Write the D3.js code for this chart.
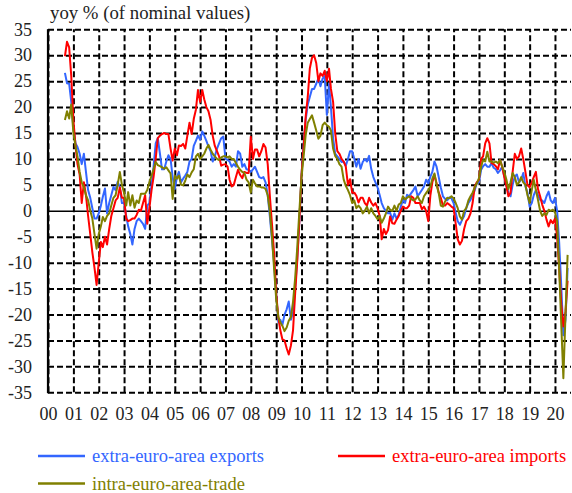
<!DOCTYPE html>
<html lang="en">
  <head>
    <meta charset="UTF-8" />
    <title>Euro area trade, yoy %</title>
    <script src="https://d3js.org/d3.v7.min.js"></script>
    <style>
      * {
        margin: 0;
        padding: 0;
      }

      body {
        background: #fff;
      }
    </style>
  </head>

  <body></body>

  <script>
    // monthly yoy %, Sep 2000 .. Jul 2020
    const firstMonth = new Date(2000, 8, 1);

    const extraExports = [
      26.6, 24.6, 24.5, 21,
      16, 13, 12.3, 11, 9, 11, 7.5, 4, 2.5, 0.5, -1.5, -1.5,
      -0.5, 1, 2.7, 4.3, -0.5, 1.5, 3, 4.6, 4, 5.6, 4.5, 1.5,
      1.5, -1, -3, -4.5, -6.5, -3.5, -2, -1.5, -2, -2.5, -3.5, 1,
      1.5, 5, 8.5, 13, 14, 11, 8, 8, 9.5, 10.7, 10, 6.5,
      4.2, 6.5, 7.5, 5.5, 6.2, 6.8, 7.5, 9.5, 10, 12.5, 13.5, 14.5,
      13.7, 15.3, 14.5, 13.5, 12.4, 11.5, 9.5, 10.5, 12, 13, 14, 14.3,
      10, 9.8, 9.5, 8.5, 9, 8.5, 11.5, 11, 8.5, 9, 8, 7.9,
      7.5, 8, 8.5, 7.5, 6.5, 6.3, 6.5, 5.5, 3, -1, -5.5, -10,
      -16, -21.5, -21, -22, -20, -19, -17.5, -21, -19.5, -15, -9, -2,
      7, 13, 17.5, 20.5, 22, 23.5, 23.5, 24.5, 25.5, 24, 25.5, 26,
      18.5, 24.5, 20, 14, 11, 10.5, 10, 9.4, 9.5, 8.7, 10, 11.5,
      11.5, 10, 8.5, 10, 8.1, 9.4, 10, 9.5, 10.6, 8.1, 6.5, 5.5,
      4.5, 3, 1.5, 0.5, 0, -0.5, -0.4, -1.7, -0.5, -1.5, -0.8, 0.8,
      2.1, 1.5, 3.1, 2.8, 3.4, 4, 4.7, 2.8, 3.4, 4, 4.7, 6,
      5.3, 6.6, 7.5, 9.5, 8.5, 6.5, 4.5, 2.8, 2.3, 2, 2.6, 2.4,
      1.5, -0.4, -2, -2.7, -1.8, -1, 0.5, 1.5, 2.1, 3, 4, 5.3,
      5.5, 7.9, 8.6, 9, 8.5, 8.5, 9.2, 8.3, 8, 7.3, 7.8, 8.5,
      6.6, 4.8, 3.5, 2.8, 5, 6.6, 7, 5.5, 6, 7.3, 4.7, 3.5,
      0.8, 1.5, 3, 4, 3, 2.1, 2, 1.5, 2.8, 3.7, 2, 1.5,
      2.5, 0, -6, -14.6, -24, -21, -11,
    ];

    const extraImports = [
      29.8, 32.6, 31.5, 26,
      17.5, 12.5, 9, 7, 1.5, 5.5, 3, -1, -4.5, -8, -11, -14.3,
      -10, -6, -7, -5, -6.5, -3.5, -1, 0.5, 2, 2.5, 4.5, 2.5,
      2.5, -1.5, -2, -1.8, -1.5, -1.5, -0.8, 0.2, 0, 1.5, 3, -2.5,
      0.5, 4, 6.5, 10, 14, 14.5, 14.8, 15, 14.8, 14.8, 12, 9.7,
      12, 10.7, 12.6, 12.5, 12.9, 12, 14.5, 17, 14.8, 17.7, 19.5, 23.3,
      21, 23.3, 21.5, 20, 19.2, 17.5, 14.5, 12.5, 11.5, 10.5, 8.7, 8.9,
      9, 8.5, 6, 4.7, 5, 6.5, 7.9, 6.9, 6.3, 7.5, 7.3, 7.3,
      14.3, 10, 11.8, 11.8, 10.5, 11.5, 12.9, 12.2, 9, 3, -2.5, -8,
      -16, -20.5, -23, -24.8, -25, -26.5, -27.7, -26, -23, -16, -9.5, -2,
      7, 12.5, 18, 22, 27.5, 29.5, 30, 28.5, 25, 26.5, 26, 27,
      25, 27.4, 23.5, 21, 15, 11.5, 11, 10, 9.5, 8.5, 5, 6.1,
      3.5, 3.5, 2.9, 1.6, 2.5, 2.5, 1.5, 1, 2.5, 1.6, 1, 1.5,
      0.5, -1, -5.5, -3.5, -4.5, -3.7, -1.1, -2.4, -2.5, -1.7, -1, 0,
      0.8, 0.5, 0.5, 1, 2.8, 2.5, 1.5, 1.5, 1.5, 0.3, 0.8, 0,
      -2, 3, 5.5, 6.9, 5.3, 3.5, 2.5, 1, 1, 1.5, 1.2, 0.8,
      0.5, -2.5, -5.5, -6.5, -5.8, -3.5, -2, -1.5, -0.5, 1.5, 4.7, 5.5,
      6, 10, 10.5, 13, 14, 13, 9.2, 9, 8.6, 8, 9.8, 8.5,
      6.5, 4.7, 2.8, 3.5, 7.5, 11, 10, 10.5, 12, 10, 7.5, 5,
      4.5, 5.5, 6.5, 7.5, 4.2, 2.8, 1.2, 0, -1.7, -3, -1.8, -2.4,
      -1.5, -5, -11, -18, -22.3, -19.5, -13.5,
    ];

    const intraTrade = [
      17.5, 19.2, 17.8, 20.5,
      15, 12.5, 10.5, 7.5, 5.5, 4.5, 3, 2, 0, -1.5, -4.5, -7.3,
      -4.5, -3, -1.2, -2, -1, -0.5, 1, 2.5, 3, 5, 7.5, 5,
      3.5, 1, 3.6, 1, 3, 0.6, 2, 1.5, 3.3, 3.3, 3.3, 4,
      5.5, 6.8, 8, 9.4, 8.8, 8.6, 8.4, 8.1, 8.4, 7.8, 7.2, 2.3,
      6.8, 6.2, 6.8, 5, 4.9, 5.8, 7, 6.5, 7.4, 8, 10.5, 11,
      10, 10.5, 11, 12, 12.7, 11.8, 11, 10.5, 10, 9.8, 10.3, 10.5,
      10.5, 10.3, 10.5, 10, 10, 9.2, 8.5, 7.9, 7.5, 7.3, 6, 5.5,
      3.5, 6, 5.3, 4.7, 4.7, 4.5, 4.5, 4.2, 3, 0, -5, -11,
      -17, -20.5, -21.5, -22.2, -23.2, -22.5, -21.2, -20.5, -17.5, -13, -7, 0,
      6.5, 10.6, 14.5, 17, 17.7, 18.4, 17, 15.5, 13.9, 14.5, 16.5, 17,
      16.5, 16.2, 15.5, 12, 10.6, 10, 9, 8.5, 6, 4.8, 4, 3,
      1.5, 2, 0.5, 1, 0.5, -0.5, 0, 0.8, -0.5, 0.5, -0.5, -1,
      -1.6, -1, -2.3, -1.5, -0.5, 0.8, 0.2, 0, 1, 0, 1.2, 1.5,
      2.8, 2.2, 2.5, 2.8, 2.3, 2, 2.2, 2.8, 2, 1.5, 2.8, 3.4,
      4, 4.7, 6.2, 7.2, 5, 3.4, 1, 0.8, 1.8, 2.5, 2.4, 2.8,
      2.4, 1.5, 0.5, -1.1, -1.7, 0, 0.5, 2, 2.8, 3.5, 4.5, 5.3,
      6.3, 8.5, 9.8, 9.5, 11.4, 9.5, 9.5, 9.3, 9.5, 9.2, 9.8, 8.5,
      7.5, 6, 4.2, 5.5, 7.3, 6.5, 5, 5.5, 6.5, 5.5, 5, 3,
      1.5, 4, 6, 4, 2.1, 0, -1, -0.5, -0.8, 0.2, 0, 0.2,
      -0.3, -2, -11, -22, -32.3, -20, -8.5,
    ];

    const yTicks = d3.range(-35, 36, 5);
    const years = d3.range(2000, 2021);
    const yearLabels = years.map((y) => String(y % 100).padStart(2, "0"));

    const seriesNames = [
      "extra-euro-area exports",
      "extra-euro-area imports",
      "intra-euro-area-trade",
    ];
    const seriesColors = ["#3366ff", "#ff0000", "#808000"];

    const serif = "'Liberation Serif', 'Times New Roman', 'DejaVu Serif', serif";

    let w = 572;
    let h = 493;
    let plotLeft = 48,
      plotRight = 571,
      plotTop = 29.3,
      plotBottom = 392.3;

    let svg = d3
      .select("body")
      .append("svg")
      .attr("width", w)
      .attr("height", h)
      .attr("font-family", serif);

    let x = d3
      .scaleTime()
      .domain([new Date(2000, 0, 1), new Date(2020, 7, 19)])
      .range([plotLeft, plotRight]);
    let y = d3.scaleLinear().domain([-35, 35]).range([plotBottom, plotTop]);

    let dates = extraExports.map((d, i) => d3.timeMonth.offset(firstMonth, i));

    // 横向网格 + y 轴刻度
    let yAxis = svg
      .append("g")
      .attr("transform", "translate(" + plotLeft + ",0)")
      .call(
        d3
          .axisLeft(y)
          .tickValues(yTicks)
          .tickSize(-(plotRight - plotLeft))
          .tickPadding(16)
          .tickFormat((d) => d)
      );
    yAxis.select(".domain").remove();
    yAxis
      .selectAll(".tick line")
      .attr("stroke", "#000")
      .attr("stroke-width", (d) => (d === 0 ? 1.6 : 2))
      .attr("stroke-dasharray", (d) => (d === 0 ? null : "6,3"));

    // 纵向网格 + 年份
    let xAxis = svg
      .append("g")
      .attr("transform", "translate(0," + plotBottom + ")")
      .call(
        d3
          .axisBottom(x)
          .tickValues(years.map((yr) => new Date(yr, 0, 1)))
          .tickSize(-(plotBottom - plotTop))
          .tickPadding(15)
          .tickFormat((d, i) => yearLabels[i])
      );
    xAxis.select(".domain").remove();
    xAxis
      .selectAll(".tick line")
      .attr("stroke", "#000")
      .attr("stroke-width", 2)
      .attr("stroke-dasharray", "6,3");

    svg
      .selectAll(".tick text")
      .attr("font-family", serif)
      .style("font-family", serif)
      .style("font-size", "18px")
      .attr("fill", "#222");

    // 左边实线
    svg
      .append("line")
      .attr("x1", plotLeft)
      .attr("x2", plotLeft)
      .attr("y1", plotTop)
      .attr("y2", plotBottom + 1)
      .attr("stroke", "#000")
      .attr("stroke-width", 2.2);

    let line = d3
      .line()
      .x((d) => x(d[0]))
      .y((d) => y(d[1]))
      .curve(d3.curveLinear);

    let allSeries = [extraExports, extraImports, intraTrade];
    allSeries.forEach((s, k) => {
      svg
        .append("path")
        .datum(s.map((v, i) => [dates[i], v]))
        .attr("fill", "none")
        .attr("stroke", seriesColors[k])
        .attr("stroke-width", 2)
        .attr("stroke-linejoin", "round")
        .attr("d", line);
    });

    // 标题
    svg
      .append("text")
      .attr("x", 50)
      .attr("y", 19)
      .style("font-family", serif)
      .style("font-size", "18.8px")
      .attr("fill", "#222")
      .text("yoy % (of nominal values)");

    // 图例
    let legendPos = [
      [38, 456],
      [338, 456],
      [38, 483.5],
    ];
    let legend = svg.append("g");
    seriesNames.forEach((name, k) => {
      let g = legend
        .append("g")
        .attr(
          "transform",
          "translate(" + legendPos[k][0] + "," + legendPos[k][1] + ")"
        );
      g.append("line")
        .attr("x1", 0)
        .attr("x2", 47)
        .attr("stroke", seriesColors[k])
        .attr("stroke-width", 2.5);
      g.append("text")
        .attr("x", 54)
        .attr("y", 6)
        .style("font-family", serif)
        .style("font-size", "18.5px")
        .attr("fill", seriesColors[k])
        .text(name);
    });
  </script>
</html>
